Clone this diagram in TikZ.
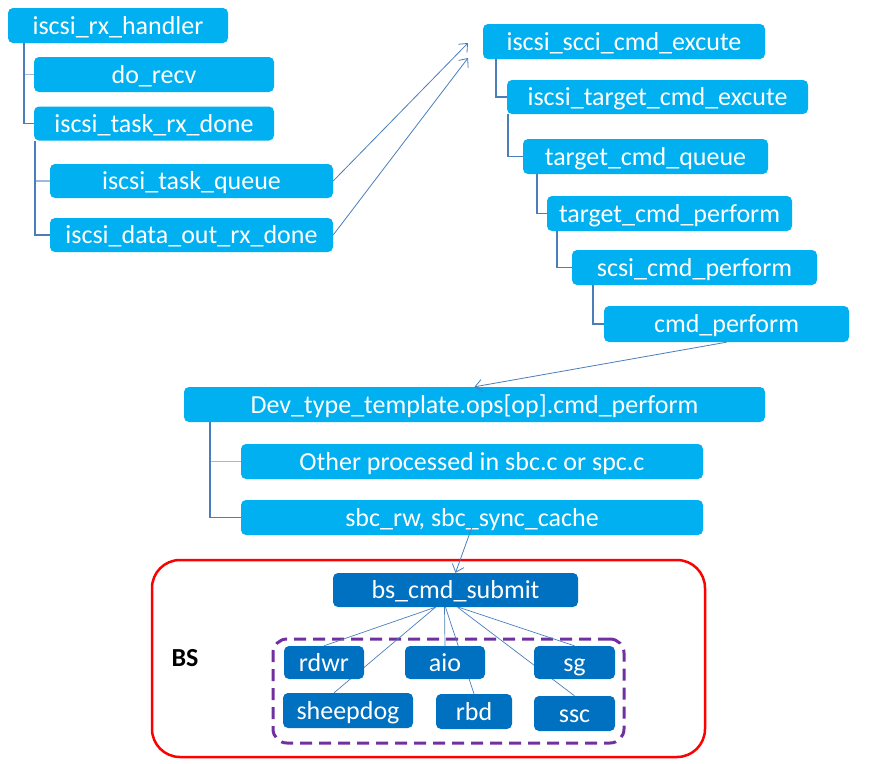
\documentclass[tikz,border=0pt]{standalone}
\usepackage{fontspec}
\setmainfont{Carlito}
\usetikzlibrary{arrows.meta,backgrounds}
\definecolor{lblue}{HTML}{00B0F0}
\definecolor{dblue}{HTML}{0070C0}
\definecolor{conn}{HTML}{4A7EBB}
\definecolor{connl}{HTML}{9DB9DE}
\definecolor{purp}{HTML}{7030A0}
\begin{document}
\begin{tikzpicture}[x=1pt,y=-1pt,
  box/.style={fill=lblue, rounded corners=5pt, text=white, inner sep=0pt,
    font=\fontsize{26}{31}\selectfont, text height=18.5pt, text depth=1.5pt,
    minimum height=35pt},
  dbox/.style={box, fill=dblue},
  tree/.style={draw=conn, line width=1.2pt},
  treel/.style={draw=connl, line width=1.6pt},
  arr/.style={draw=conn, line width=0.8pt, -{Straight Barb[length=7pt,width=12pt]}},
  fan/.style={draw=conn, line width=0.7pt}]
\useasboundingbox (0,0) rectangle (878,763);

% left tree
\node[box, minimum width=220pt] (n1) at (118,25.5) {iscsi\_rx\_handler};
\node[box, minimum width=240pt] (n2) at (154,74.5) {do\_recv};
\node[box, minimum width=240pt, minimum height=34pt] (n3) at (154,123.5) {iscsi\_task\_rx\_done};
\node[box, minimum width=283pt, minimum height=34pt] (n4) at (191.5,181) {iscsi\_task\_queue};
\node[box, minimum width=283pt, minimum height=34pt] (n5) at (191.5,235) {iscsi\_data\_out\_rx\_done};

% right tree
\node[box, minimum width=282pt] (n6) at (624,41.5) {iscsi\_scci\_cmd\_excute};
\node[box, minimum width=301pt, minimum height=34pt] (n7) at (657.5,97) {iscsi\_target\_cmd\_excute};
\node[box, minimum width=245pt] (n8) at (645.5,156.5) {target\_cmd\_queue};
\node[box, minimum width=245pt] (n9) at (669.5,213.5) {target\_cmd\_perform};
\node[box, minimum width=245pt] (n10) at (694.5,267.5) {scsi\_cmd\_perform};
\node[box, minimum width=245pt, minimum height=36pt] (n11) at (726.5,324) {cmd\_perform};

% middle
\node[box, minimum width=581pt] (n12) at (474.5,404.5) {Dev\_type\_template.ops[op].cmd\_perform};
\node[box, minimum width=462pt] (n13) at (472,461.5) {Other processed in sbc.c or spc.c};
\node[box, minimum width=462pt] (n14) at (472,517.5) {sbc\_rw, sbc\_sync\_cache};

% BS
\node[font=\bfseries\fontsize{26}{30}\selectfont, inner sep=0pt] (bslabel) at (185,658) {BS};
\node[dbox, minimum width=245pt, minimum height=34pt] (n15) at (455.5,590) {bs\_cmd\_submit};
\node[dbox, minimum width=80pt, minimum height=33pt] (rdwr) at (324,662.5) {rdwr};
\node[dbox, minimum width=80pt, minimum height=33pt] (aio) at (445,662.5) {aio};
\node[dbox, minimum width=81pt, minimum height=33pt] (sg) at (574.5,662.5) {sg};
\node[dbox, minimum width=130pt] (sheepdog) at (348,710.5) {sheepdog};
\node[dbox, minimum width=76pt] (rbd) at (474,711.5) {rbd};
\node[dbox, minimum width=81pt] (ssc) at (574.5,713.5) {ssc};

% tree connectors
\draw[treel] (n2.west) -- ++(-10,0);
\draw[tree] ([xshift=-94pt]n1.south) |- (n3.west);
\draw[treel] (n4.west) -- ++(-15,0);
\draw[tree] ([xshift=-119pt]n3.south) |- (n5.west);
\draw[tree] ([xshift=-128pt]n6.south) |- (n7.west);
\draw[tree] ([xshift=-149.5pt]n7.south) |- (n8.west);
\draw[tree] ([xshift=-108.5pt]n8.south) |- (n9.west);
\draw[tree] ([xshift=-112.5pt]n9.south) |- (n10.west);
\draw[tree] ([xshift=-101.5pt]n10.south) |- (n11.west);
\draw[treel] (n13.west) -- ++(-31,0);
\draw[tree] ([xshift=-264.5pt]n12.south) |- (n14.west);

% arrows
\coordinate (t1) at (468,43);
\coordinate (t2) at (468,58);
\draw[arr] (n4.east) -- (t1);
\draw[arr] (n5.east) -- (t2);
\draw[arr] (n11.south) -- (n12.north);
\draw[arr] ([yshift=-9.5pt]n14.center) -- (n15.north);

% frames and fan, behind the boxes
\begin{scope}[on background layer]
\node[draw=red, line width=2.5pt, rounded corners=28pt, minimum width=553pt,
  minimum height=197pt, inner sep=0pt] (bsframe) at (428.5,658.5) {};
\node[draw=purp, line width=3pt, dash pattern=on 12pt off 7pt, rounded corners=14pt,
  minimum width=351pt, minimum height=104pt, inner sep=0pt] (grp) at (448.5,691) {};
\draw[fan] ([xshift=-20pt]n15.south) -- (rdwr.north);
\draw[fan] ([xshift=-20pt]n15.south) -- ([xshift=-14pt]sheepdog.north);
\draw[fan] ([xshift=-11pt]n15.south) -- (aio.north);
\draw[fan] ([xshift=-10pt]n15.south) -- (rbd.north);
\draw[fan] ([xshift=2pt]n15.south) -- (ssc.north);
\draw[fan] ([xshift=3pt]n15.south) -- (sg.north);
\end{scope}
\end{tikzpicture}
\end{document}
